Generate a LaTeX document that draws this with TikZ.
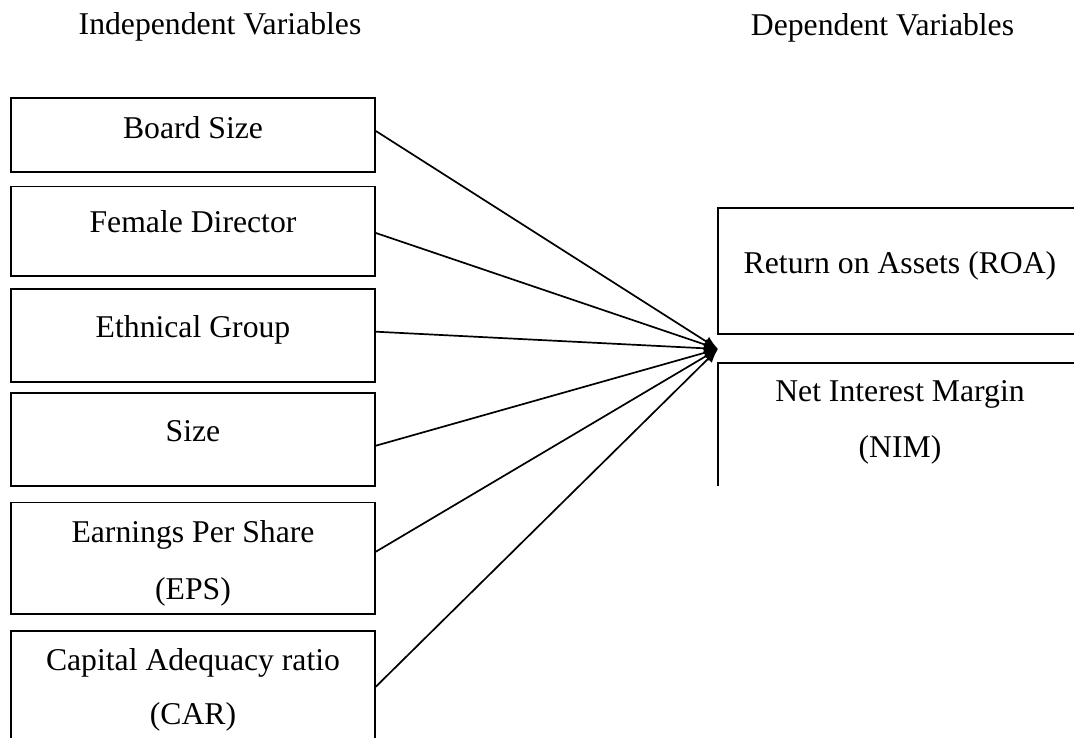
\documentclass[tikz,border=0pt]{standalone}
\usepackage{fontspec}
\setmainfont{Liberation Serif}
\usetikzlibrary{arrows.meta}
\begin{document}
\begin{tikzpicture}[x=1pt,y=-1pt,
  box/.style={draw, line width=1.7pt, inner sep=0pt, minimum width=364pt},
  lbl/.style={anchor=base, inner sep=0pt, font=\fontsize{31.7}{38}\selectfont},
  conn/.style={line width=1.7pt, -{Latex[length=14pt,width=11pt]}}]
\useasboundingbox (0,0) rectangle (1074,738);
\clip (0,0) rectangle (1074,738);
% headers
\node[lbl] (hind) at (220,35) {Independent Variables};
\node[lbl] (hdep) at (882.5,36) {Dependent Variables};
% independent boxes
\node[box, minimum height=74pt] (b1) at (193,135.3) {};
\node[box, minimum height=89.3pt] (b2) at (193,231.3) {};
\node[box, minimum height=92.4pt] (b3) at (193,335.5) {};
\node[box, minimum height=92.4pt] (b4) at (193,439.5) {};
\node[box, minimum height=111.7pt] (b5) at (193,558.2) {};
\node[box, minimum height=129.3pt] (b6) at (193,695.3) {};
\node[lbl] (t1) at (193,139) {Board Size};
\node[lbl] (t2) at (193,233) {Female Director};
\node[lbl] (t3) at (193,337.3) {Ethnical Group};
\node[lbl] (t4) at (193,441.7) {Size};
\node[lbl] (t5a) at (193,542.7) {Earnings Per Share};
\node[lbl] (t5b) at (193,599) {(EPS)};
\node[lbl] (t6a) at (193,670) {Capital Adequacy ratio};
\node[lbl] (t6b) at (193,724) {(CAR)};
% dependent boxes
\node[box, minimum height=125.7pt] (roa) at (900.2,271.2) {};
\node[lbl] (troa) at (900,273.3) {Return on Assets (ROA)};
\coordinate (nimtl) at (718.3,362.7);
\coordinate (nimbl) at (718.3,486);
\coordinate (nimtr) at (1082,362.7);
\draw[line width=1.7pt] (nimbl) -- (nimtl) -- (nimtr);
\node[lbl] (tnim1) at (900,401.7) {Net Interest Margin};
\node[lbl] (tnim2) at (900,457) {(NIM)};
% connectors
\coordinate (tip) at (718,349);
\draw[conn] ([yshift=4.3pt]b1.east) -- (tip);
\draw[conn] ([yshift=-1.7pt]b2.east) -- (tip);
\draw[conn] ([yshift=3.8pt]b3.east) -- (tip);
\draw[conn] ([yshift=-6.2pt]b4.east) -- (tip);
\draw[conn] ([yshift=6.5pt]b5.east) -- (tip);
\draw[conn] ([yshift=8.6pt]b6.east) -- (tip);
\end{tikzpicture}
\end{document}
